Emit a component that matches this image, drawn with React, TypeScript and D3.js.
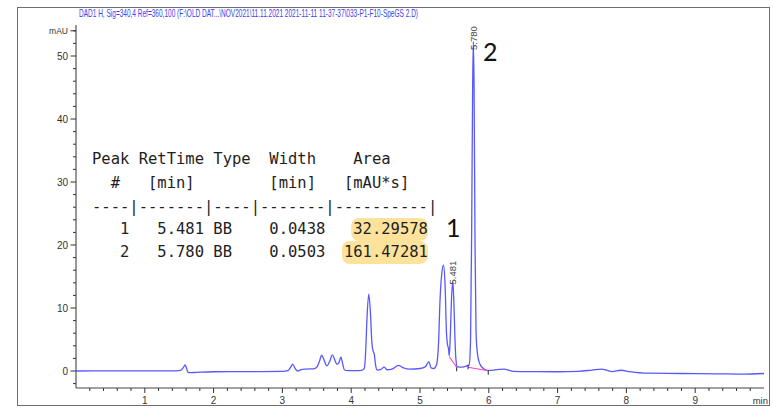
import React from "react";
import * as d3 from "d3";

// ---- data ----
const traceTime = [
  0.0, 0.5, 1.0, 1.45, 1.52, 1.56, 1.585, 1.605, 1.625, 1.65, 1.75, 2.0, 2.5, 3.0, 3.08, 3.12, 3.15, 3.18, 3.22,
  3.27, 3.35, 3.45, 3.5, 3.54, 3.57, 3.6, 3.645, 3.69, 3.725, 3.76, 3.79, 3.82, 3.85, 3.875, 3.9, 3.95, 4.05,
  4.15, 4.19, 4.21, 4.23, 4.255, 4.28, 4.3, 4.32, 4.335, 4.355, 4.38, 4.43, 4.48, 4.52, 4.6, 4.685, 4.75, 4.85,
  5.0, 5.08, 5.13, 5.16, 5.2, 5.24, 5.27, 5.29, 5.32, 5.342, 5.365, 5.385, 5.4, 5.415, 5.426, 5.44, 5.46, 5.478,
  5.495, 5.51, 5.525, 5.54, 5.6, 5.68, 5.715, 5.735, 5.752, 5.765, 5.775, 5.786, 5.8, 5.815, 5.835, 5.86, 5.9,
  5.95, 6.0, 6.15, 6.22, 6.35, 6.7, 7.0, 7.3, 7.5, 7.64, 7.72, 7.79, 7.92, 8.05, 8.3, 8.8, 9.3, 9.7, 10.0,
];
const traceMAU = [
  0.0, 0.02, 0.03, 0.03, 0.1, 0.55, 0.95, 0.5, -0.15, -0.27, -0.22, -0.12, -0.1, -0.05, 0.05, 0.6, 1.1, 0.5, 0.0,
  0.2, 0.3, 0.35, 0.6, 1.6, 2.5, 1.9, 0.8, 1.6, 2.55, 1.8, 1.1, 1.3, 2.2, 1.2, 0.2, 0.05, 0.05,
  0.1, 0.4, 3.0, 8.5, 12.2, 9.2, 4.6, 3.1, 2.7, 0.9, 0.15, 0.25, 0.6, 0.2, 0.35, 0.9, 0.55, 0.3,
  0.4, 0.7, 1.5, 0.5, 0.4, 1.0, 4.5, 11.0, 15.8, 16.8, 13.5, 6.0, 4.2, 3.5, 2.4, 5.5, 12.0, 14.2,
  10.0, 4.5, 1.5, 0.7, 0.6, 0.8, 1.0, 5.0, 24.0, 45.0, 52.3, 45.0, 20.0, 6.0, 2.8, 1.4, 0.6,
  0.2, 0.1, 0.25, 0.3, -0.05, -0.1, -0.12, -0.05, 0.15, 0.3, 0.1, -0.1, 0.12, -0.1, -0.35, -0.4, -0.45, -0.5, -0.4,
];

// integration baselines: start [t, v] and end [t, v]
const baselineStart = [[5.426, 2.27], [5.698, 0.6]];
const baselineEnd = [[5.533, 0.6], [5.992, 0.05]];

const peakLabelTimes = [5.481, 5.78];
const peakLabelTexts = ["5.481", "5.780"];
const peakLabelValues = [14.2, 52.3];

const xMajorTicks = [1, 2, 3, 4, 5, 6, 7, 8, 9];
const yMajorTicks = [0, 10, 20, 30, 40, 50];

const titleText =
  "DAD1 H, Sig=340,4 Ref=360,100 (F:\\OLD DAT...\\NOV2021\\11.11.2021 2021-11-11 11-37-37\\033-P1-F10-SpeGS 2.D)";

const tableLines = [
  "Peak RetTime Type  Width    Area",
  "  #   [min]        [min]   [mAU*s]",
  "----|-------|----|-------|----------|",
  "   1   5.481 BB    0.0438   32.29578",
  "   2   5.780 BB    0.0503  161.47281",
];
const tableBaselines = [164, 188, 212, 234, 257];
const highlightCols = [[28, 36], [27, 36]];

const annotTexts = ["1", "2"];

export default function App() {
  const W = 773;
  const H = 408;
  const x = d3.scaleLinear().domain([0, 10]).range([76, 764]);
  const y = d3.scaleLinear().domain([0, 50]).range([371, 56]);
  const axisBottomY = 388;
  const axisTopY = 25;

  const pts: [number, number][] = traceTime.map((t, i) => [t, traceMAU[i]]);
  const line = d3
    .line<[number, number]>()
    .x((d) => x(d[0]))
    .y((d) => y(d[1]))
    .curve(d3.curveMonotoneX);

  const xMinor = d3.range(1, 50).map((i) => i * 0.2).filter((v) => Math.abs(v - Math.round(v)) > 1e-6);
  const yMinor = d3.range(-2, 55, 2).filter((v) => v % 10 !== 0);

  const charW = 9.33;
  const tableX = 92;
  const sans = "Liberation Sans, Arial, sans-serif";

  return (
    <svg
      width={W}
      height={H}
      style={{ position: "absolute", left: 0, top: 0, background: "#fff" }}
      xmlns="http://www.w3.org/2000/svg"
    >
      <rect x={0} y={0} width={W} height={H} fill="#fff" />
      <rect x={17.5} y={7.5} width={752} height={398} fill="none" stroke="#6e6e6e" strokeWidth={1} />

      <text x={79} y={16.5} fontFamily={sans} fontSize={11} fill="#3c3cf0" textLength={339} lengthAdjust="spacingAndGlyphs">
        {titleText}
      </text>

      {/* y axis */}
      <line x1={76} x2={76} y1={axisTopY} y2={axisBottomY} stroke="#333" strokeWidth={1} />
      {yMajorTicks.map((v) => (
        <g key={"ym" + v}>
          <line x1={70.5} x2={76} y1={y(v)} y2={y(v)} stroke="#333" />
          <text x={68} y={y(v) + 3.5} textAnchor="end" fontFamily={sans} fontSize={10} fill="#333">
            {v}
          </text>
        </g>
      ))}
      {yMinor.map((v) => (
        <line key={"yn" + v} x1={73} x2={76} y1={y(v)} y2={y(v)} stroke="#333" />
      ))}
      <line x1={70.5} x2={76} y1={y(54)} y2={y(54)} stroke="#333" />
      <text x={68} y={y(54) + 3} textAnchor="end" fontFamily={sans} fontSize={8.5} fill="#333">
        mAU
      </text>

      {/* x axis */}
      <line x1={76} x2={764} y1={axisBottomY} y2={axisBottomY} stroke="#444" strokeWidth={1} />
      {xMajorTicks.map((v) => (
        <g key={"xm" + v}>
          <line x1={x(v)} x2={x(v)} y1={axisBottomY} y2={axisBottomY + 5} stroke="#333" />
          <text x={x(v)} y={404} textAnchor="middle" fontFamily={sans} fontSize={10} fill="#333">
            {v}
          </text>
        </g>
      ))}
      {xMinor.map((v, i) => (
        <line key={"xn" + i} x1={x(v)} x2={x(v)} y1={axisBottomY} y2={axisBottomY + 3} stroke="#333" />
      ))}
      <text x={768} y={404} textAnchor="end" fontFamily={sans} fontSize={9.5} fill="#333">
        min
      </text>

      {/* highlights */}
      {highlightCols.map((c, i) => (
        <rect
          key={"hl" + i}
          x={tableX + c[0] * charW - 2}
          y={tableBaselines[i + 3] - 16}
          width={(c[1] - c[0]) * charW + 2}
          height={23}
          rx={8}
          fill="#fde29b"
        />
      ))}

      {/* table */}
      {tableLines.map((s, i) => (
        <text
          key={"tl" + i}
          x={tableX}
          y={tableBaselines[i]}
          fontFamily="DejaVu Sans Mono, monospace"
          fontSize={15.5}
          fill="#1e1e1e"
          style={{ whiteSpace: "pre" }}
        >
          {s}
        </text>
      ))}

      {/* trace */}
      <path d={line(pts) || ""} fill="none" stroke="#5858ff" strokeWidth={1.3} />

      {/* integration baselines */}
      {baselineStart.map((s, i) => (
        <g key={"bl" + i}>
          <line
            x1={x(s[0])}
            y1={y(s[1])}
            x2={x(baselineEnd[i][0])}
            y2={y(baselineEnd[i][1])}
            stroke="#ff3fd0"
            strokeWidth={1.1}
          />
          <line
            x1={x(baselineEnd[i][0])}
            x2={x(baselineEnd[i][0])}
            y1={y(baselineEnd[i][1])}
            y2={y(baselineEnd[i][1]) + 4}
            stroke="#222"
          />
        </g>
      ))}
      <line
        x1={x(baselineStart[1][0])}
        x2={x(baselineStart[1][0])}
        y1={y(baselineStart[1][1]) - 2}
        y2={y(baselineStart[1][1]) + 2}
        stroke="#222"
      />

      {/* peak labels */}
      {peakLabelTimes.map((t, i) => {
        const px = x(t) + 3;
        const py = i === 0 ? y(peakLabelValues[i]) + 3 : 50;
        return (
          <text
            key={"pl" + i}
            transform={`translate(${px},${py}) rotate(-90)`}
            fontFamily={sans}
            fontSize={9.5}
            fill="#444"
          >
            {peakLabelTexts[i]}
          </text>
        );
      })}

      {/* big annotations */}
      <text x={446} y={237} fontFamily="Lato, Open Sans, sans-serif" fontSize={25} fill="#111">
        {annotTexts[0]}
      </text>
      <text x={483} y={61} fontFamily="Lato, Open Sans, sans-serif" fontSize={25} fill="#111">
        {annotTexts[1]}
      </text>
    </svg>
  );
}
